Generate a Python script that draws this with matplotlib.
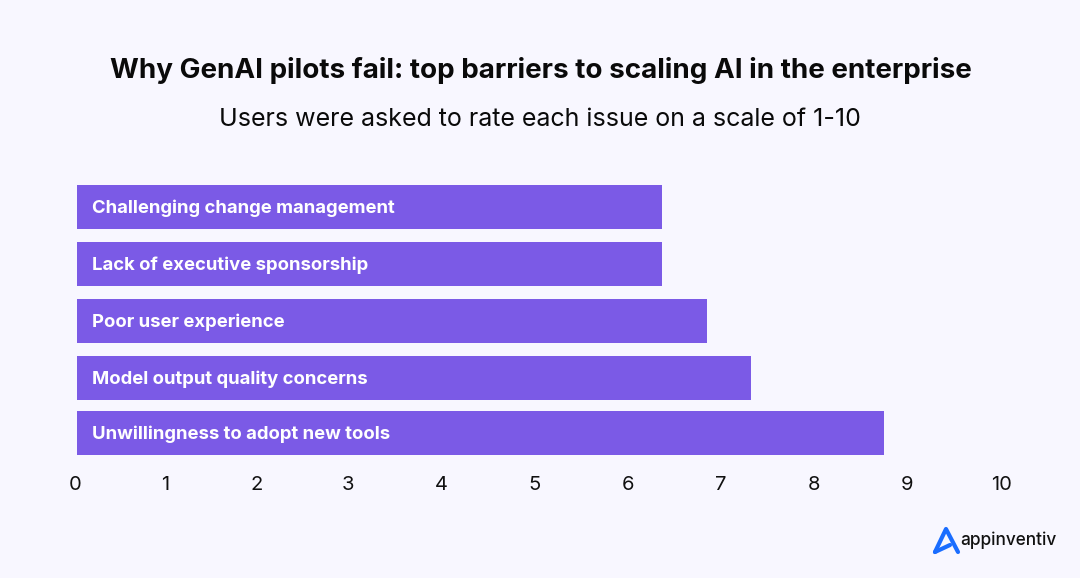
import matplotlib.pyplot as plt

labels = [
    "Unwillingness to adopt new tools",
    "Model output quality concerns",
    "Poor user experience",
    "Lack of executive sponsorship",
    "Challenging change management",
]
values = [8.73, 7.3, 6.82, 6.33, 6.33]
tick_labels = ["0", "1", "2", "3", "4", "5", "6", "7", "8", "9", "10"]

# rows and tick labels are not evenly spaced in the original
row_pos = [0, 0.965, 1.965, 2.965, 3.965]
tick_pos = [-0.01, 0.96, 1.95, 2.94, 3.95, 4.95, 5.96, 6.97, 7.98, 8.98, 10]

BG = "#f8f7ff"
PURPLE = "#7b5ae6"
BLUE = "#1a6dff"

plt.rcParams["font.family"] = ["Inter", "DejaVu Sans"]

W, H = 1080, 578
fig = plt.figure(figsize=(W / 100, H / 100), dpi=100, facecolor=BG)

# axes spans x = 0..10 and the bars area in pixels
left, right = 75.6, 1001
top, bottom = 178, 461
ax = fig.add_axes([left / W, 1 - bottom / H, (right - left) / W, (bottom - top) / H])
ax.set_facecolor(BG)
ax.set_xlim(0, 10)
ax.set_ylim(-0.49, 4.475)

ax.barh(row_pos, values, height=0.772, color=PURPLE)
for y, label in zip(row_pos, labels):
    ax.text(0.17, y + 0.015, label, color="white", fontsize=13.3, fontweight="bold", va="center_baseline", ha="left")

for s in ax.spines.values():
    s.set_visible(False)
ax.set_yticks([])
ax.set_xticks(tick_pos, tick_labels)
ax.tick_params(axis="x", length=0, pad=11, labelsize=14.5, labelcolor="#111111")

fig.text(540.5 / W, 1 - 71 / H, "Why GenAI pilots fail: top barriers to scaling AI in the enterprise",
         ha="center", va="center", fontsize=20, fontweight="bold", color="#0a0a0a")
fig.text(540 / W, 1 - 119.5 / H, "Users were asked to rate each issue on a scale of 1-10",
         ha="center", va="center", fontsize=18, color="#0a0a0a")

# logo, in pixel coordinates
logo = fig.add_axes([0, 0, 1, 1])
logo.set_xlim(0, W)
logo.set_ylim(H, 0)
logo.axis("off")
logo.patch.set_alpha(0)
logo.plot([935, 946, 958], [552, 529, 552], color=BLUE, lw=3, solid_capstyle="round", solid_joinstyle="round")
logo.plot([935, 950], [552, 545], color=BLUE, lw=3, solid_capstyle="round")
logo.text(960.5, 540, "appinventiv", fontsize=12.4, fontweight="medium", color="#111111", va="center", ha="left")

fig.savefig("out.png", dpi=100, facecolor=BG)
